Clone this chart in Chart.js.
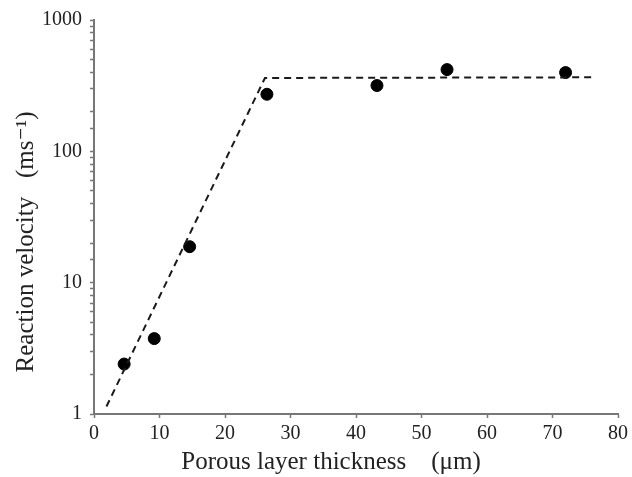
<!DOCTYPE html>
<html>
<head>
<meta charset="utf-8">
<script src="https://cdn.jsdelivr.net/npm/chart.js@4/dist/chart.umd.min.js"></script>
<style>
  html, body { margin: 0; padding: 0; background: #fff; }
  #wrap { width: 632px; height: 477px; }
</style>
</head>
<body>
<div id="wrap"><canvas id="c" width="632" height="477"></canvas></div>
<script>
// Measured reaction velocity vs. porous layer thickness
const thickness = [4.6, 9.2, 14.6, 26.4, 43.2, 53.9, 72.0];
const velocity = [2.4, 3.75, 18.8, 272, 317, 419, 398];

// Two-segment fit: exponential rise, then plateau
const fitThickness = [1.9, 26.1, 76.5];
const fitVelocity = [1.14, 362, 366];

// Axis ranges and labelled ticks
const xTicks = [0, 10, 20, 30, 40, 50, 60, 70, 80];
const yMajor = [1, 10, 100, 1000];

const serif = "'Liberation Serif', 'DejaVu Serif', serif";
const axisColor = '#777';

new Chart(document.getElementById('c'), {
  type: 'scatter',
  data: {
    datasets: [
      {
        label: 'fit',
        type: 'line',
        data: fitThickness.map((x, i) => ({ x, y: fitVelocity[i] })),
        borderColor: '#1a1a1a',
        borderWidth: 2,
        borderDash: [7, 5],
        pointRadius: 0,
        fill: false,
        tension: 0
      },
      {
        label: 'measured',
        data: thickness.map((x, i) => ({ x, y: velocity[i] })),
        backgroundColor: '#000',
        borderColor: '#000',
        pointRadius: 6,
        pointHoverRadius: 6
      }
    ]
  },
  options: {
    responsive: false,
    animation: false,
    events: [],
    layout: { padding: { top: 20, right: 14, left: 0, bottom: 0 } },
    plugins: { legend: { display: false }, tooltip: { enabled: false } },
    scales: {
      x: {
        type: 'linear',
        min: xTicks[0],
        max: xTicks[xTicks.length - 1],
        afterFit: s => { s.height = 63; },
        afterBuildTicks: s => { s.ticks = xTicks.map(v => ({ value: v })); },
        border: { color: axisColor, width: 2 },
        grid: { drawOnChartArea: false, color: axisColor, tickLength: 4, tickWidth: 1.5 },
        ticks: { color: '#222', padding: 4, font: { family: serif, size: 20 } },
        title: {
          display: true,
          text: 'Porous layer thickness\u2002\u2002(\u03bcm)        ',
          color: '#222',
          padding: { top: 0, bottom: 0 },
          font: { family: serif, size: 25 }
        }
      },
      y: {
        type: 'logarithmic',
        min: yMajor[0],
        max: yMajor[yMajor.length - 1],
        afterFit: s => { s.width = 94; },
        border: { color: axisColor, width: 2 },
        grid: { drawOnChartArea: false, color: axisColor, tickLength: 4, tickWidth: 1.5 },
        ticks: {
          autoSkip: false,
          color: '#222',
          padding: 8,
          font: { family: serif, size: 20 },
          callback: v => (yMajor.includes(v) ? String(v) : '')
        },
        title: {
          display: true,
          text: 'Reaction velocity\u2002 (ms\u207b\u00b9)        ',
          color: '#222',
          padding: { top: 11, bottom: 0 },
          font: { family: serif, size: 25 }
        }
      }
    }
  }
});
</script>
</body>
</html>
